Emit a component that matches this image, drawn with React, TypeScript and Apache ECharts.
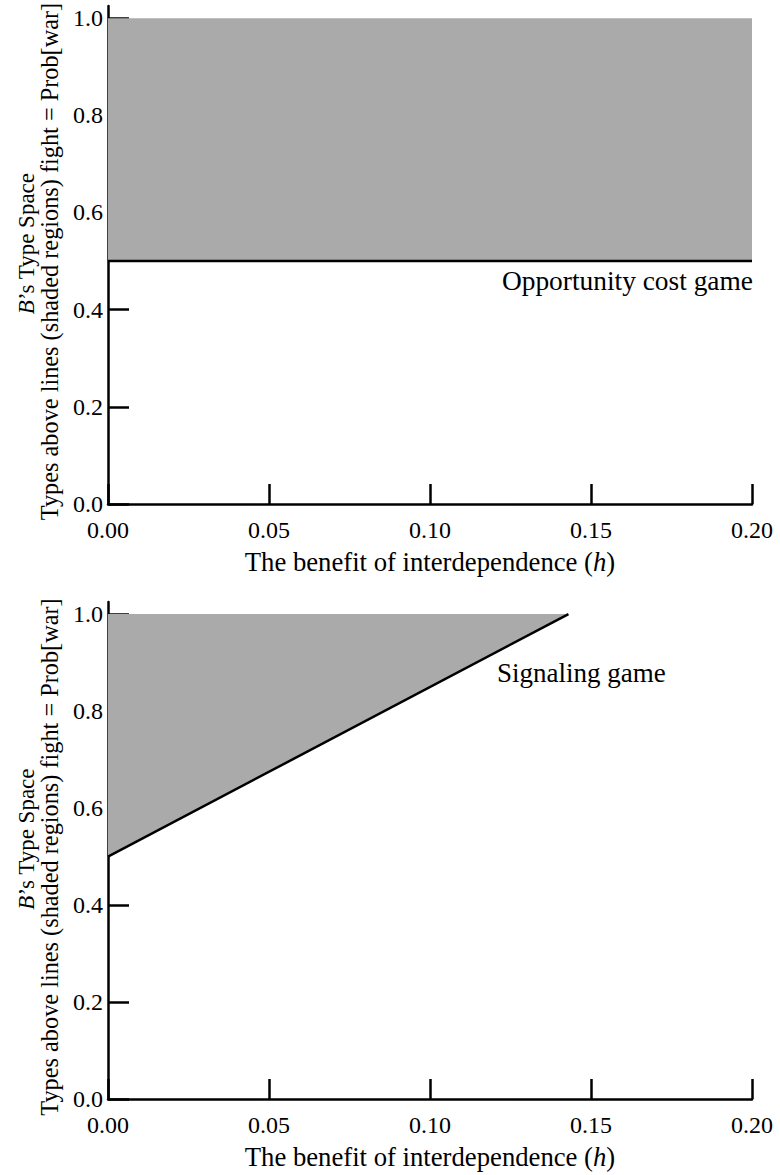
import React, { useEffect, useRef } from "react";
import * as echarts from "echarts";

const hTicks = [0, 0.05, 0.1, 0.15, 0.2];
const pTicks = [0, 0.2, 0.4, 0.6, 0.8, 1.0];
const oppLine = [[0, 0.5], [0.2, 0.5]];
const oppRegion = [[0, 0.5], [0.2, 0.5], [0.2, 1.0], [0, 1.0]];
const sigLine = [[0, 0.5], [0.143, 1.0]];
const sigRegion = [[0, 0.5], [0.143, 1.0], [0, 1.0]];
const oppLabel = "Opportunity cost game";
const sigLabel = "Signaling game";

const FONT = "'Liberation Serif', 'Times New Roman', serif";

function xAxisFor(idx: number) {
  return {
    type: "value",
    gridIndex: idx,
    min: 0,
    max: 0.2,
    interval: 0.05,
    name: "{n|The benefit of interdependence (}{i|h}{n|)}",
    nameLocation: "middle",
    nameGap: 44,
    nameMoveOverlap: false,
    nameTextStyle: {
      rich: {
        n: { fontFamily: FONT, fontSize: 26.7, color: "#000" },
        i: { fontFamily: FONT, fontSize: 26.7, color: "#000", fontStyle: "italic" },
      },
    },
    axisLine: { show: true, onZero: false, lineStyle: { color: "#000", width: 2.5 } },
    axisTick: {
      show: true,
      inside: true,
      length: 20,
      customValues: hTicks,
      lineStyle: { color: "#000", width: 2.5 },
    },
    axisLabel: {
      show: true,
      margin: 14,
      customValues: hTicks,
      formatter: (v: number) => v.toFixed(2),
      fontFamily: FONT,
      fontSize: 24,
      color: "#000",
    },
    splitLine: { show: false },
  };
}

function yAxisFor(idx: number) {
  return {
    type: "value",
    gridIndex: idx,
    min: 0,
    max: 1.025,
    name:
      "{pad1|}{i|B}{m|\u2019s Type Space}\n{n|Types above lines (shaded regions) fight = Prob[war]}{pad2|}",
    nameLocation: "middle",
    nameRotate: 90,
    nameGap: 47,
    nameMoveOverlap: false,
    nameTextStyle: {
      lineHeight: 23,
      rich: {
        n: { fontFamily: FONT, fontSize: 24.3, color: "#000", lineHeight: 23 },
        m: { fontFamily: FONT, fontSize: 23, color: "#000", lineHeight: 23 },
        i: { fontFamily: FONT, fontSize: 23, color: "#000", fontStyle: "italic", lineHeight: 23 },
        pad1: { width: 23, lineHeight: 23 },
        pad2: { width: 13, lineHeight: 23 },
      },
    },
    axisLine: { show: true, onZero: false, lineStyle: { color: "#000", width: 2.5 } },
    axisTick: {
      show: true,
      inside: true,
      length: 21,
      customValues: pTicks,
      lineStyle: { color: "#000", width: 2.5 },
    },
    axisLabel: {
      show: true,
      margin: 5,
      customValues: pTicks,
      formatter: (v: number) => v.toFixed(1),
      fontFamily: FONT,
      fontSize: 24,
      color: "#000",
    },
    splitLine: { show: false },
  };
}

function regionSeries(region: number[][], idx: number) {
  return {
    type: "custom",
    xAxisIndex: idx,
    yAxisIndex: idx,
    z: 1,
    silent: true,
    data: [region[0]],
    renderItem: (_params: any, api: any) => ({
      type: "polygon",
      shape: { points: region.map((p) => api.coord(p)) },
      style: { fill: "#aaaaaa", stroke: "none" },
    }),
  };
}

function lineSeries(line: number[][], idx: number) {
  return {
    type: "line",
    xAxisIndex: idx,
    yAxisIndex: idx,
    z: 3,
    silent: true,
    symbol: "none",
    data: line,
    lineStyle: { color: "#000", width: 2.5 },
  };
}

export default function App() {
  const ref = useRef<HTMLDivElement>(null);
  useEffect(() => {
    if (!ref.current) return;
    const chart = echarts.init(ref.current, undefined, { renderer: "svg" });
    chart.setOption({
      animation: false,
      backgroundColor: "#fff",
      grid: [
        { left: 108, top: 6, width: 644, height: 498, containLabel: false, outerBoundsMode: "none" },
        { left: 108, top: 602, width: 644, height: 497, containLabel: false, outerBoundsMode: "none" },
      ],
      xAxis: [xAxisFor(0), xAxisFor(1)],
      yAxis: [yAxisFor(0), yAxisFor(1)],
      series: [
        regionSeries(oppRegion, 0),
        lineSeries(oppLine, 0),
        regionSeries(sigRegion, 1),
        lineSeries(sigLine, 1),
      ],
      graphic: [
        {
          type: "text",
          x: 753,
          y: 281,
          style: {
            text: oppLabel,
            fontFamily: FONT,
            fontSize: 27.4,
            fill: "#000",
            align: "right",
            verticalAlign: "middle",
          },
        },
        {
          type: "text",
          x: 497,
          y: 673,
          style: {
            text: sigLabel,
            fontFamily: FONT,
            fontSize: 27,
            fill: "#000",
            align: "left",
            verticalAlign: "middle",
          },
        },
      ],
    });
    return () => chart.dispose();
  }, []);
  return (
    <div
      ref={ref}
      style={{ position: "absolute", left: 0, top: 0, width: 780, height: 1175 }}
    />
  );
}
